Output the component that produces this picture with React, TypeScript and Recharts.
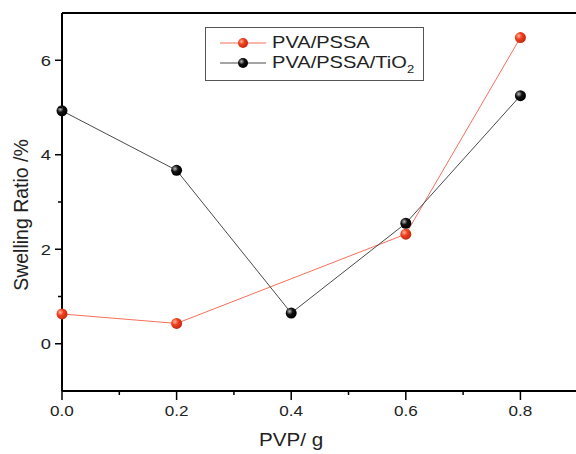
import React from 'react';
import { LineChart, Line, XAxis, YAxis, ReferenceLine } from 'recharts';

const pvpValues = [0, 0.2, 0.4, 0.6, 0.8];
const pvaPssa = [0.63, 0.43, null, 2.32, 6.48];
const pvaPssaTio2 = [4.93, 3.67, 0.65, 2.55, 5.25];
const xTicks = [0, 0.1, 0.2, 0.3, 0.4, 0.5, 0.6, 0.7, 0.8];
const yTicks = [-1, 0, 1, 2, 3, 4, 5, 6, 7];
const seriesNames = ['PVA/PSSA', 'PVA/PSSA/TiO'];

const data = pvpValues.map((x, i) => ({ x, a: pvaPssa[i], b: pvaPssaTio2[i] }));

const FONT = '"Liberation Sans", Arial, sans-serif';
const SX = 1.18;

const XTick = (props: any) => {
  const { x, y, payload } = props;
  const k = Math.round(payload.value * 10);
  const major = k % 2 === 0;
  return (
    <g>
      <line x1={x} x2={x} y1={y} y2={y + (major ? 9 : 4)} stroke="#000" strokeWidth={1.5} />
      {major && (
        <text
          transform={`translate(${x},${y + 25}) scale(${SX},1)`}
          textAnchor="middle"
          fontSize={14.5}
          fontFamily={FONT}
          fill="#222"
        >
          {payload.value.toFixed(1)}
        </text>
      )}
    </g>
  );
};

const YTick = (props: any) => {
  const { x, y, payload } = props;
  const v = Math.round(payload.value);
  const major = v % 2 === 0 && v >= 0;
  const show = v > -1 && v < 7;
  if (!show) return <g />;
  return (
    <g>
      <line x1={x - (major ? 7 : 4)} x2={x} y1={y} y2={y} stroke="#000" strokeWidth={1.5} />
      {major && (
        <text
          transform={`translate(${x - 11},${y + 5.5}) scale(${SX},1)`}
          textAnchor="end"
          fontSize={15.5}
          fontFamily={FONT}
          fill="#222"
        >
          {v}
        </text>
      )}
    </g>
  );
};

const Marker = (color: string) => (props: any) => {
  const { cx, cy, value } = props;
  if (value === null || value === undefined || cx == null || cy == null) return <g key={`${color}-${cx}`} />;
  return <circle key={`${color}-${cx}`} cx={cx} cy={cy} r={5.5} fill={`url(#${color})`} />;
};

const LegendSample = ({ line, grad }: { line: string; grad: string }) => (
  <svg width={48} height={14} style={{ display: 'block' }}>
    <defs>
      <radialGradient id={grad + 'L'} cx="35%" cy="35%" r="65%">
        <stop offset="0%" stopColor={grad === 'gRed' ? '#ffb8a0' : '#bbbbbb'} />
        <stop offset="45%" stopColor={grad === 'gRed' ? '#f0401e' : '#111'} />
        <stop offset="100%" stopColor={grad === 'gRed' ? '#c82a10' : '#000'} />
      </radialGradient>
    </defs>
    <line x1={0} x2={46} y1={7} y2={7} stroke={line} strokeWidth={1} />
    <circle cx={23} cy={7} r={5} fill={`url(#${grad}L)`} />
  </svg>
);

export default function App() {
  return (
    <div style={{ position: 'fixed', left: 0, top: 0, width: 576, height: 454, overflow: 'hidden', background: '#fff' }}>
      <LineChart width={576} height={454} data={data} margin={{ top: 13, right: 0, bottom: 0, left: 0 }}>
        <defs>
          <radialGradient id="gRed" cx="35%" cy="35%" r="65%">
            <stop offset="0%" stopColor="#ffb8a0" />
            <stop offset="45%" stopColor="#f0401e" />
            <stop offset="100%" stopColor="#c82a10" />
          </radialGradient>
          <radialGradient id="gBlack" cx="35%" cy="35%" r="65%">
            <stop offset="0%" stopColor="#bbbbbb" />
            <stop offset="45%" stopColor="#111" />
            <stop offset="100%" stopColor="#000" />
          </radialGradient>
        </defs>
        <XAxis
          dataKey="x"
          type="number"
          domain={[0, 0.897]}
          ticks={xTicks}
          interval={0}
          height={63}
          tickSize={0}
          tickMargin={0}
          tickLine={false}
          tick={<XTick />}
          axisLine={{ stroke: '#000', strokeWidth: 2 }}
          label={{
            content: (p: any) => (
              <text
                transform={`translate(${p.viewBox.x + 229},${p.viewBox.y + 55}) scale(${SX},1)`}
                textAnchor="middle"
                fontSize={17.5}
                fontFamily={FONT}
                fill="#222"
              >
                PVP/ g
              </text>
            ),
          }}
        />
        <YAxis
          type="number"
          domain={[-1, 7]}
          ticks={yTicks}
          interval={0}
          width={62}
          tickSize={0}
          tickMargin={0}
          tickLine={false}
          tick={<YTick />}
          axisLine={{ stroke: '#000', strokeWidth: 2 }}
          label={{
            content: (p: any) => (
              <text
                transform={`translate(${p.viewBox.x + 28},${p.viewBox.y + 202}) rotate(-90)`}
                textAnchor="middle"
                fontSize={19.5}
                fontFamily={FONT}
                fill="#222"
              >
                Swelling Ratio /%
              </text>
            ),
          }}
        />
        <ReferenceLine y={7} stroke="#000" strokeWidth={2} />
        <Line
          dataKey="a"
          name={seriesNames[0]}
          stroke="#f4715a"
          strokeWidth={1}
          connectNulls
          isAnimationActive={false}
          dot={Marker('gRed')}
          activeDot={false}
        />
        <Line
          dataKey="b"
          name={seriesNames[1]}
          stroke="#4a4a4a"
          strokeWidth={1}
          isAnimationActive={false}
          dot={Marker('gBlack')}
          activeDot={false}
        />
      </LineChart>
      <div
        style={{
          position: 'absolute',
          left: 205,
          top: 27,
          width: 219,
          height: 54,
          border: '1px solid #555',
          background: '#fff',
          fontFamily: FONT,
          fontSize: 17,
          color: '#222',
          boxSizing: 'border-box',
        }}
      >
        <div style={{ position: 'absolute', left: 14, top: 8, display: 'flex', alignItems: 'center' }}>
          <LegendSample line="#f4715a" grad="gRed" />
          <span style={{ marginLeft: 4, display: 'inline-block', transform: `scaleX(${SX})`, transformOrigin: 'left center', lineHeight: '14px' }}>
            {seriesNames[0]}
          </span>
        </div>
        <div style={{ position: 'absolute', left: 14, top: 28, display: 'flex', alignItems: 'center' }}>
          <LegendSample line="#4a4a4a" grad="gBlack" />
          <span style={{ marginLeft: 4, display: 'inline-block', transform: `scaleX(${SX})`, transformOrigin: 'left center', lineHeight: '14px' }}>
            {seriesNames[1]}
            <sub style={{ fontSize: 11, verticalAlign: -5, lineHeight: 0 }}>2</sub>
          </span>
        </div>
      </div>
    </div>
  );
}
